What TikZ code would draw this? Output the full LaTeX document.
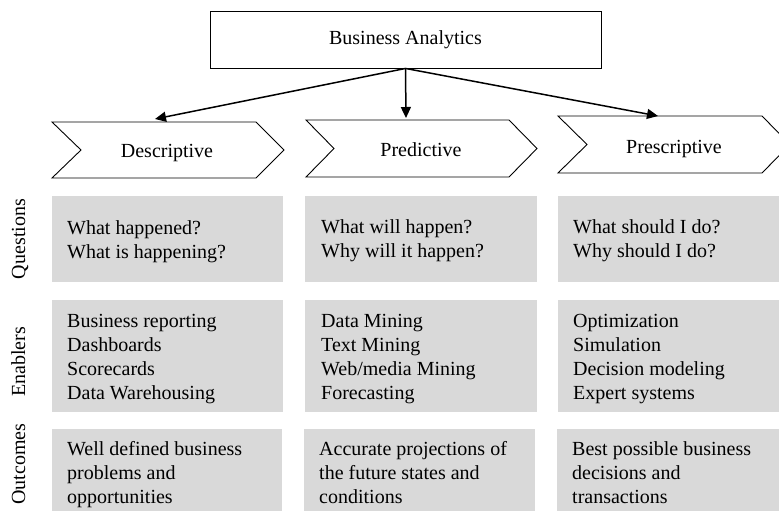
\documentclass[tikz,border=0pt]{standalone}
\usepackage{fontspec}
\setmainfont{Liberation Serif}
\usetikzlibrary{arrows.meta}
\begin{document}
\begin{tikzpicture}[x=1pt,y=-1pt,
  txt/.style={font=\fontsize{20}{24}\selectfont, inner sep=0pt},
  body/.style={txt, anchor=north west, align=left},
  graybox/.style={fill=boxgray, draw=none},
  chev/.style={draw=black, line width=0.9pt, line join=miter, fill=white},
  conn/.style={line width=1.5pt, -{Triangle[length=11pt,width=10pt]}},
  side/.style={txt, anchor=base, rotate=90}]
\definecolor{boxgray}{HTML}{D9D9D9}
\useasboundingbox (0,0) rectangle (779,511);
\clip (0,0) rectangle (779,511);

% top box
\node[txt, draw=black, line width=0.9pt, minimum width=391pt, minimum height=57pt] (ba) at (405.5,39.5) {Business Analytics};

% chevrons
\draw[chev] (52,122) -- (256,122) -- (284,150) -- (256,178) -- (52,178) -- (81,150) -- cycle;
\draw[chev] (306,120) -- (509,120) -- (537,148.5) -- (509,177) -- (306,177) -- (334,148.5) -- cycle;
\draw[chev] (558,116) -- (762,116) -- (790,144.5) -- (762,173) -- (558,173) -- (587,144.5) -- cycle;
\node[txt, anchor=base] (desc) at (167,157) {Descriptive};
\node[txt, anchor=base] (pred) at (421,156) {Predictive};
\node[txt, anchor=base] (presc) at (674,153) {Prescriptive};

% arrows
\coordinate (t1) at (155,119);
\coordinate (t2) at (406,118);
\coordinate (t3) at (658,116);
\draw[conn] (ba.south) -- (t1);
\draw[conn] (ba.south) -- (t2);
\draw[conn] (ba.south) -- (t3);

% gray boxes
\fill[graybox] (52,196) rectangle (283,282);
\fill[graybox] (305,196) rectangle (537,282);
\fill[graybox] (558,196) rectangle (790,282);
\fill[graybox] (52,300) rectangle (283,412);
\fill[graybox] (305,300) rectangle (537,412);
\fill[graybox] (558,300) rectangle (790,412);
\fill[graybox] (52,429) rectangle (282,520);
\fill[graybox] (304,429) rectangle (535,520);
\fill[graybox] (557,429) rectangle (790,520);

% side labels
\node[side] (lq) at (25,239) {Questions};
\node[side] (le) at (25,362) {Enablers};
\node[side] (lo) at (25,464) {Outcomes};

% texts
\node[body] (q1) at (67,217.2) {\strut What happened?\\What is happening?};
\node[body] (q2) at (321,216.2) {\strut What will happen?\\Why will it happen?};
\node[body] (q3) at (573,216.2) {\strut What should I do?\\Why should I do?};
\node[body] (e1) at (67,310.2) {\strut Business reporting\\Dashboards\\Scorecards\\Data Warehousing};
\node[body] (e2) at (321,310.2) {\strut Data Mining\\Text Mining\\Web/media Mining\\Forecasting};
\node[body] (e3) at (573,310.2) {\strut Optimization\\Simulation\\Decision modeling\\Expert systems};
\node[body] (o1) at (67,438.2) {\strut Well defined business\\problems and\\opportunities};
\node[body] (o2) at (319,438.2) {\strut Accurate projections of\\the future states and\\conditions};
\node[body] (o3) at (572,438.2) {\strut Best possible business\\decisions and\\transactions};
\end{tikzpicture}
\end{document}
